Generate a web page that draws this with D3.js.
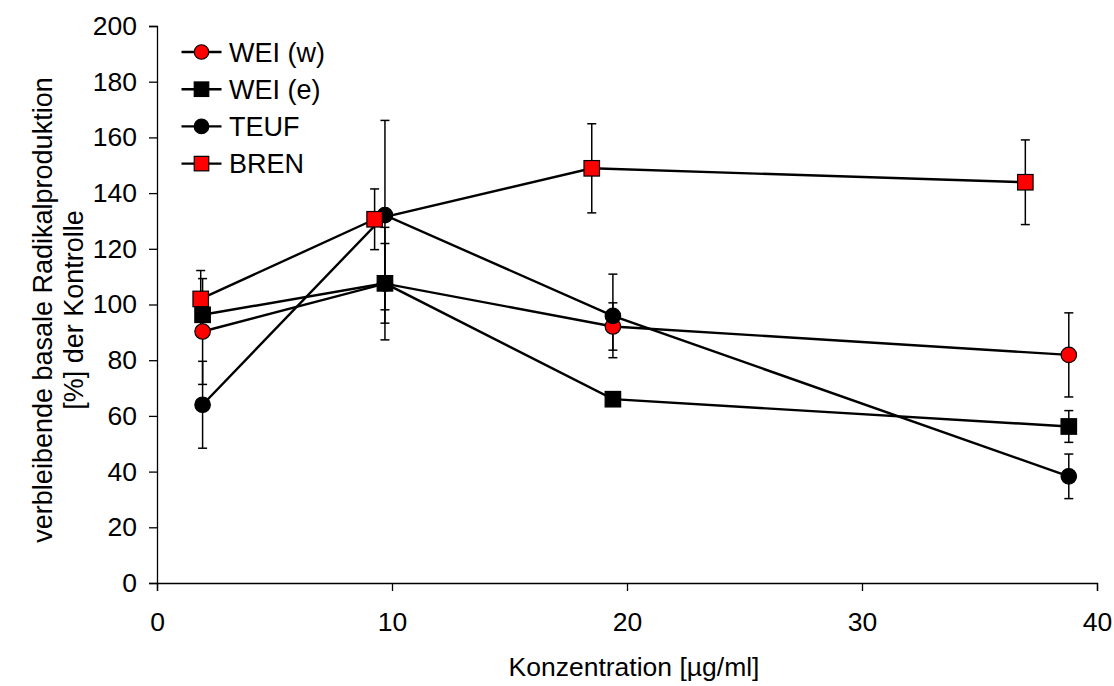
<!DOCTYPE html>
<html>
<head>
<meta charset="utf-8">
<script src="https://cdn.jsdelivr.net/npm/d3@7/dist/d3.min.js"></script>
<style>
  body { margin: 0; background: #fff; }
  text { font-family: Arial, "Liberation Sans", sans-serif; fill: #000; }
</style>
</head>
<body>
<div id="chart"></div>
<script>
// Daten
const xWei = [1.94, 9.7, 19.4, 38.8];
const xBren = [1.86, 9.26, 18.5, 36.95];

const weiW = [90.3, 107.5, 92.1, 81.9];
const weiWErr = [19, 20.2, 8.5, 15.1];
const weiE = [96.3, 107.6, 66, 56.2];
const weiEErr = [4, 14.3, 2, 5.7];
const teuf = [64, 132.1, 95.9, 38.3];
const teufErr = [15.6, 34, 15, 8];
const bren = [102, 130.6, 148.9, 143.9];
const brenErr = [10.2, 10.9, 16, 15.2];

const xTicks = [0, 10, 20, 30, 40];
const yTicks = [0, 20, 40, 60, 80, 100, 120, 140, 160, 180, 200];

const series = [
  { name: "WEI (w)", x: xWei, y: weiW, err: weiWErr, shape: "circle", fill: "#ff0000" },
  { name: "WEI (e)", x: xWei, y: weiE, err: weiEErr, shape: "square", fill: "#000000" },
  { name: "TEUF", x: xWei, y: teuf, err: teufErr, shape: "circle", fill: "#000000" },
  { name: "BREN", x: xBren, y: bren, err: brenErr, shape: "square", fill: "#ff0000" }
];

const W = 1114, H = 686;
const margin = { top: 26, right: 17, bottom: 103, left: 157 };
const width = W - margin.left - margin.right;
const height = H - margin.top - margin.bottom;
const fs = "26.5px";

const svg = d3.select("#chart").append("svg")
  .attr("width", W).attr("height", H);

const g = svg.append("g")
  .attr("transform", `translate(${margin.left},${margin.top})`);

const x = d3.scaleLinear().domain([0, 40]).range([0, width]);
const y = d3.scaleLinear().domain([0, 200]).range([height, 0]);

// Achsen
const xAxis = g.append("g")
  .attr("transform", `translate(0,${height})`)
  .call(d3.axisBottom(x).tickValues(xTicks).tickSizeOuter(0).tickSize(8).tickPadding(21));
const yAxis = g.append("g")
  .call(d3.axisLeft(y).tickValues(yTicks).tickSizeOuter(0).tickSize(8).tickPadding(12));

[xAxis, yAxis].forEach(a => {
  a.selectAll("path").attr("stroke", "#000").attr("stroke-width", 1.3);
  a.selectAll("line").attr("stroke", "#000").attr("stroke-width", 1.3);
  a.selectAll("text").style("font-size", fs).attr("fill", "#000");
});

// Linien
const line = d3.line().x(d => x(d[0])).y(d => y(d[1]));
series.forEach(s => {
  const pts = s.x.map((v, i) => [v, s.y[i]]);
  g.append("path")
    .datum(pts)
    .attr("fill", "none")
    .attr("stroke", "#000")
    .attr("stroke-width", 2.4)
    .attr("d", line);
});

// Fehlerbalken
const cap = 4.5;
series.forEach(s => {
  s.x.forEach((xv, i) => {
    const top = y(s.y[i] + s.err[i]), bot = y(s.y[i] - s.err[i]), cx = x(xv);
    const eb = g.append("g").attr("stroke", "#000").attr("stroke-width", 1.5);
    eb.append("line").attr("x1", cx).attr("x2", cx).attr("y1", top).attr("y2", bot);
    eb.append("line").attr("x1", cx - cap).attr("x2", cx + cap).attr("y1", top).attr("y2", top);
    eb.append("line").attr("x1", cx - cap).attr("x2", cx + cap).attr("y1", bot).attr("y2", bot);
  });
});

// Marker
function marker(sel, s, cx, cy, size) {
  if (s.shape === "circle") {
    sel.append("circle").attr("cx", cx).attr("cy", cy).attr("r", size / 2)
      .attr("fill", s.fill).attr("stroke", "#000").attr("stroke-width", 1.2);
  } else {
    sel.append("rect").attr("x", cx - size / 2).attr("y", cy - size / 2)
      .attr("width", size).attr("height", size)
      .attr("fill", s.fill).attr("stroke", "#000").attr("stroke-width", 1.2);
  }
}
series.forEach(s => {
  s.x.forEach((xv, i) => marker(g, s, x(xv), y(s.y[i]), 15.5));
});

// Legende
const legend = svg.append("g").attr("transform", "translate(181.5,52)");
series.forEach((s, i) => {
  const row = legend.append("g").attr("transform", `translate(0,${i * 37.2})`);
  row.append("line").attr("x1", 0).attr("x2", 40).attr("y1", 0).attr("y2", 0)
    .attr("stroke", "#000").attr("stroke-width", 2.4);
  marker(row, s, 20, 0, 14.5);
  row.append("text").attr("x", 47.5).attr("y", 9.5).style("font-size", "27px").text(s.name);
});

// Achsentitel
svg.append("text")
  .attr("x", 634).attr("y", 676)
  .attr("text-anchor", "middle").style("font-size", "26.5px")
  .text("Konzentration [µg/ml]");

const yt = svg.append("text")
  .attr("transform", "translate(0,310) rotate(-90)")
  .attr("text-anchor", "middle").style("font-size", "27px");
yt.append("tspan").attr("x", 0).attr("y", 52).text("verbleibende basale Radikalproduktion");
yt.append("tspan").attr("x", 0).attr("y", 83).text("[%] der Kontrolle");
</script>
</body>
</html>
